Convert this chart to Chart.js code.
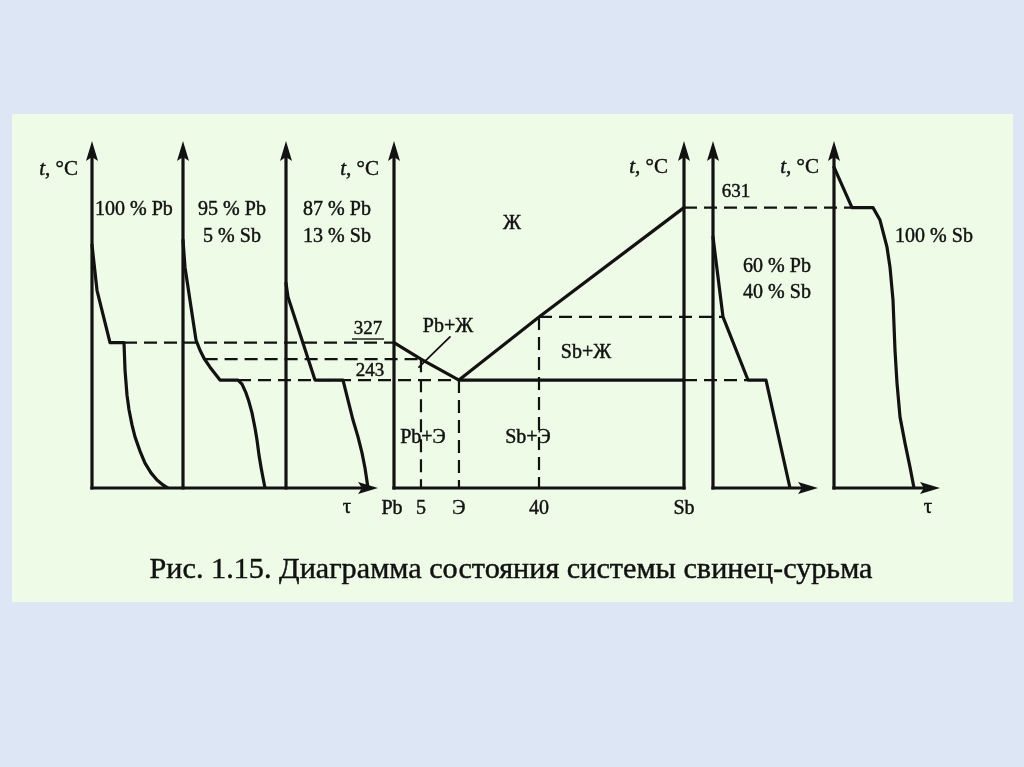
<!DOCTYPE html>
<html><head><meta charset="utf-8">
<script src="https://cdn.jsdelivr.net/npm/chart.js@4/dist/chart.umd.min.js"></script>
<style>html,body{margin:0;padding:0;background:#dce6f5;overflow:hidden}canvas{display:block}</style>
</head><body><canvas id="c" width="1024" height="767"></canvas>
<script>
// ---------- DATA ----------
// key temperatures, °C
const T_PB = 327, T_EUT = 243, T_SB = 631, T_5 = 290, T_40 = 385;
const tempTickLabels = ['327', '243', '631'];

// phase diagram: composition axis (schematic positions, % of axis width)
const compLabels = ['Pb', '5', 'Э', '40', 'Sb'];
const compPos = [0, 9.3, 22.4, 50, 100];
const liquidusT = [327, 290, 243, 385, 631];

// cooling curves: τ (arbitrary units) vs t (°C)
const pb100Tau = [0, 5, 18, 32, 33, 35, 37, 40, 43, 48, 53, 59, 65, 71, 76];
const pb100T   = [547, 445, 327, 327, 266, 209, 176, 142, 115, 83, 56, 34, 18, 7, 0];
const pb95Tau  = [0, 2, 13, 17, 21, 27, 37, 55, 59, 63, 66, 69, 72, 74, 76, 78, 80, 82];
const pb95T    = [558, 497, 333, 310, 292, 272, 243, 243, 234, 214, 194, 169, 135, 108, 74, 47, 23, 0];
const pb87Tau  = [0, 2, 29, 57, 62, 67, 72, 76, 79, 82];
const pb87T    = [461, 430, 243, 243, 198, 153, 115, 79, 45, 0];
const pb60Tau  = [0, 10, 35, 53, 77];
const pb60T    = [565, 385, 243, 243, 0];
const sb100Tau = [0, 18, 39, 46, 53, 56, 59, 61, 63, 66, 71, 76, 80];
const sb100T   = [722, 631, 631, 603, 542, 497, 423, 310, 236, 160, 101, 47, 0];
const curveLabels = [['100 % Pb'], ['95 % Pb', '5 % Sb'], ['87 % Pb', '13 % Sb'], ['60 % Pb', '40 % Sb'], ['100 % Sb']];
const regionLabels = ['Ж', 'Pb+Ж', 'Sb+Ж', 'Pb+Э', 'Sb+Э'];
const caption = 'Рис. 1.15. Диаграмма состояния системы свинец-сурьма';

// ---------- LAYOUT (positions in page units) ----------
const ORIG = [92, 183, 286, 713, 834];       // τ-axis origins of cooling curves
const PH_L = 394, PH_W = 290;                 // phase diagram axis
const T_MAX = 781;
const INK = '#121212';
const px = p => PH_L + p / 100 * PH_W;
const pts = (o, tau, t) => tau.map((v, i) => ({x: o + v, y: t[i]}));
const interpTau = (tau, t, T) => { for (let i = 1; i < t.length; i++) { if ((t[i-1] - T) * (t[i] - T) <= 0 && t[i-1] !== t[i]) { return tau[i-1] + (T - t[i-1]) / (t[i] - t[i-1]) * (tau[i] - tau[i-1]); } } return 0; };

const solid = (data) => ({data, showLine: true, borderColor: INK, borderWidth: 3.2, pointRadius: 0, tension: 0, fill: false, borderJoinStyle: 'round', borderCapStyle: 'round'});
const dashed = (data) => ({data, showLine: true, borderColor: INK, borderWidth: 2.2, borderDash: [13, 7], pointRadius: 0, tension: 0, fill: false});

const iE = compLabels.indexOf('Э'), i5 = 1, i40 = 3;
const datasets = [
  solid(pts(ORIG[0], pb100Tau, pb100T)),
  solid(pts(ORIG[1], pb95Tau, pb95T)),
  solid(pts(ORIG[2], pb87Tau, pb87T)),
  solid(pts(ORIG[3], pb60Tau, pb60T)),
  solid(pts(ORIG[4], sb100Tau, sb100T)),
  // liquidus
  solid(compPos.map((p, i) => ({x: px(p), y: liquidusT[i]}))),
  // eutectic horizontal
  solid([{x: px(compPos[iE]), y: T_EUT}, {x: px(100), y: T_EUT}]),
  // leader line for Pb+Ж
  {...solid([{x: px(8.6), y: 272}, {x: px(19.3), y: 340}]), borderWidth: 1.8},
  // dashed: 327
  dashed([{x: ORIG[0] + 32, y: T_PB}, {x: PH_L, y: T_PB}]),
  // dashed: 5 % liquidus
  dashed([{x: ORIG[1] + interpTau(pb95Tau, pb95T, T_5), y: T_5}, {x: px(compPos[i5]), y: T_5}]),
  // dashed: eutectic
  dashed([{x: ORIG[1] + 55, y: T_EUT}, {x: px(compPos[iE]), y: T_EUT}]),
  dashed([{x: px(100), y: T_EUT}, {x: ORIG[3] + 35, y: T_EUT}]),
  // dashed: 40 % liquidus
  dashed([{x: px(compPos[i40]), y: T_40}, {x: ORIG[3] + 10, y: T_40}]),
  // dashed: 631
  dashed([{x: px(100), y: T_SB}, {x: ORIG[4] + 18, y: T_SB}]),
  // verticals
  dashed([{x: px(compPos[i5]), y: T_5}, {x: px(compPos[i5]), y: 0}]),
  dashed([{x: px(compPos[iE]), y: T_EUT}, {x: px(compPos[iE]), y: 0}]),
  dashed([{x: px(compPos[i40]), y: T_40}, {x: px(compPos[i40]), y: 0}]),
];

const SERIF = '"Liberation Serif", "DejaVu Serif", serif';

const deco = {
  id: 'deco',
  beforeDraw(chart) {
    const c = chart.ctx;
    c.save();
    c.fillStyle = '#dce6f5'; c.fillRect(0, 0, 1024, 767);
    c.fillStyle = '#eefbe6'; c.fillRect(12, 114, 1001, 488);
    c.restore();
  },
  afterDatasetsDraw(chart) {
    const c = chart.ctx, X = chart.scales.x, Y = chart.scales.y;
    const xp = v => X.getPixelForValue(v), yp = v => Y.getPixelForValue(v);
    c.save();
    c.strokeStyle = INK; c.fillStyle = INK; c.lineWidth = 3.2; c.lineCap = 'butt';
    const top = yp(T_MAX), base = yp(0);
    const vAxis = x => {
      c.beginPath(); c.moveTo(x, base + 1.6); c.lineTo(x, top + 14); c.stroke();
      c.beginPath(); c.moveTo(x, top); c.lineTo(x - 6, top + 20); c.lineTo(x, top + 16); c.lineTo(x + 6, top + 20); c.closePath(); c.fill();
    };
    const hAxis = (x0, x1, arrow) => {
      c.beginPath(); c.moveTo(x0 - 1.6, base); c.lineTo(arrow ? x1 - 12 : x1 + 1.6, base); c.stroke();
      if (arrow) { c.beginPath(); c.moveTo(x1, base); c.lineTo(x1 - 20, base - 6); c.lineTo(x1 - 16, base); c.lineTo(x1 - 20, base + 6); c.closePath(); c.fill(); }
    };
    [ORIG[0], ORIG[1], ORIG[2], PH_L, PH_L + PH_W, ORIG[3], ORIG[4]].forEach(vAxis);
    hAxis(ORIG[0], 378, true);
    hAxis(PH_L, PH_L + PH_W, false);
    hAxis(ORIG[3], 818, true);
    hAxis(ORIG[4], 940, true);

    // texts
    c.textBaseline = 'middle';
    c.lineWidth = 0.45;
    const txt = (s, x, y, align = 'center', size = 20) => { c.font = size + 'px ' + SERIF; c.textAlign = align; c.fillText(s, x, y); c.strokeText(s, x, y); };
    const tC = (xr, y) => {
      c.textAlign = 'left';
      c.font = 'italic 21px ' + SERIF; const w1 = c.measureText('t').width;
      c.font = '21px ' + SERIF; const w2 = c.measureText(', °C').width;
      const x0 = xr - w1 - w2;
      c.font = 'italic 21px ' + SERIF; c.fillText('t', x0, y); c.strokeText('t', x0, y);
      c.font = '21px ' + SERIF; c.fillText(', °C', x0 + w1, y); c.strokeText(', °C', x0 + w1, y);
    };
    tC(78, 169); tC(379, 169); tC(668, 167); tC(819, 167);

    txt(curveLabels[0][0], 95, 210, 'left');
    txt(curveLabels[1][0], 232, 210); txt(curveLabels[1][1], 232, 237);
    txt(curveLabels[2][0], 337, 210); txt(curveLabels[2][1], 337, 237);
    txt(curveLabels[3][0], 777, 267); txt(curveLabels[3][1], 777, 293);
    txt(curveLabels[4][0], 934, 237);

    // temperature marks
    txt(tempTickLabels[0], 368, 329, 'center', 19);
    c.lineWidth = 1.4; c.beginPath(); c.moveTo(352, 339); c.lineTo(384, 339); c.stroke();
    c.lineWidth = 0.45;
    txt(tempTickLabels[1], 370, 371, 'center', 19);
    txt(tempTickLabels[2], 736, 192, 'center', 19);

    // regions
    txt(regionLabels[0], 512, 224, 'center', 20);
    txt(regionLabels[1], 448, 327, 'center', 20);
    txt(regionLabels[2], 586, 353, 'center', 20);
    txt(regionLabels[3], 423, 438, 'center', 20);
    txt(regionLabels[4], 528, 438, 'center', 20);

    // composition ticks
    compLabels.forEach((l, i) => txt(l, xp(px(compPos[i])) - (i === 0 ? 2 : 0), 509, 'center', 20));
    txt('τ', 347, 507, 'center', 21);
    txt('τ', 928, 507, 'center', 21);

    // caption
    c.font = '30px ' + SERIF;
    const w = c.measureText(caption).width;
    const sz = 30 * 723 / w;
    txt(caption, 511, 570, 'center', sz);
    c.restore();
  }
};

new Chart(document.getElementById('c'), {
  type: 'scatter',
  data: {datasets},
  options: {
    responsive: false, animation: false, events: [],
    layout: {padding: {left: 0, right: 0, top: 141, bottom: 279}},
    plugins: {legend: {display: false}, tooltip: {enabled: false}},
    scales: {
      x: {type: 'linear', min: 0, max: 1024, display: false},
      y: {type: 'linear', min: 0, max: T_MAX, display: false}
    }
  },
  plugins: [deco]
});
</script></body></html>
